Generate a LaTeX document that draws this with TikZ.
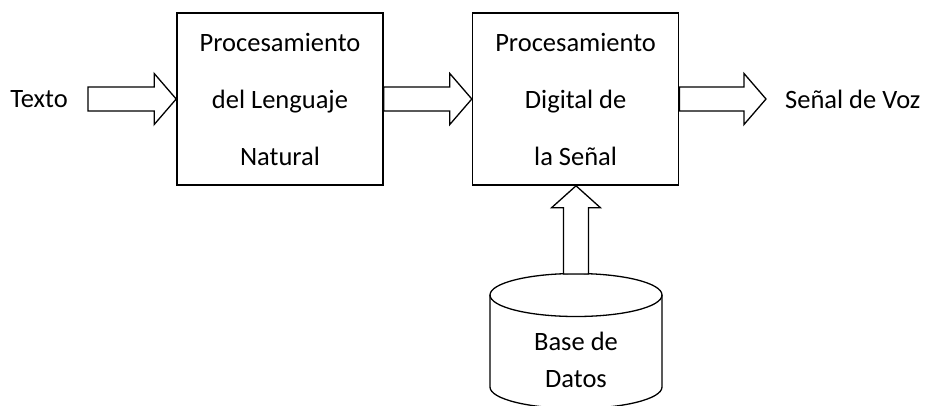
\documentclass[tikz,border=0pt]{standalone}
\usepackage{fontspec}
\setmainfont{Carlito}
\usetikzlibrary{calc,positioning}

\tikzset{
  block/.style={rectangle, draw, line width=1.6pt, minimum width=206pt, minimum height=172pt, align=center, font=\fontsize{26.5}{57}\selectfont},
  fat/.style={draw, line width=1.3pt, fill=white, line join=miter},
  lbl/.style={font=\fontsize{26.5}{31}\selectfont, inner sep=0pt},
  dbtext/.style={font=\fontsize{26.5}{37}\selectfont, align=center, inner sep=0pt},
}

% block arrow pointing right, from #1 to #2
\newcommand{\fatright}[2]{%
  \draw[fat] let \p1=(#1), \p2=(#2) in
    (\x1,\y1+12pt) -- (\x2-22pt,\y1+12pt) -- (\x2-22pt,\y1+25.5pt) -- (\x2,\y1)
    -- (\x2-22pt,\y1-25.5pt) -- (\x2-22pt,\y1-12pt) -- (\x1,\y1-12pt) -- cycle;}
% block arrow pointing up, from #1 to #2
\newcommand{\fatup}[2]{%
  \draw[fat] let \p1=(#1), \p2=(#2) in
    (\x1-12.5pt,\y1) -- (\x1-12.5pt,\y2-22pt) -- (\x1-24.5pt,\y2-22pt) -- (\x1,\y2)
    -- (\x1+24.5pt,\y2-22pt) -- (\x1+12.5pt,\y2-22pt) -- (\x1+12.5pt,\y1) -- cycle;}

\begin{document}
\begin{tikzpicture}[x=1pt,y=-1pt]
  \useasboundingbox (0,0) rectangle (925,405);

  \node[block] (nlp) at (280,99) {Procesamiento\\del Lenguaje\\Natural};
  \node[block, right=88pt of nlp] (dsp) {Procesamiento\\Digital de\\la Señal};

  \node[lbl] (texto) at (39,99) {Texto};
  \coordinate[right=20pt of texto.east] (tin);
  \node[lbl, anchor=west] (voz) at (785,99) {Señal de Voz};
  \coordinate[left=19pt of voz.west] (vozin);

  % base de datos
  \draw[line width=1.3pt] (490,295) -- (490,387) arc[start angle=180, end angle=0, x radius=86, y radius=21.5] -- (662,295);
  \draw[line width=1.3pt] (576,295) ellipse[x radius=86, y radius=21.5];
  \coordinate (dbtop) at (576,274);
  \node[dbtext] (db) at (576,360) {Base de\\Datos};

  \fatright{tin}{nlp.west}
  \fatright{nlp.east}{dsp.west}
  \fatright{dsp.east}{vozin}
  \fatup{dbtop}{dsp.south}
\end{tikzpicture}
\end{document}
